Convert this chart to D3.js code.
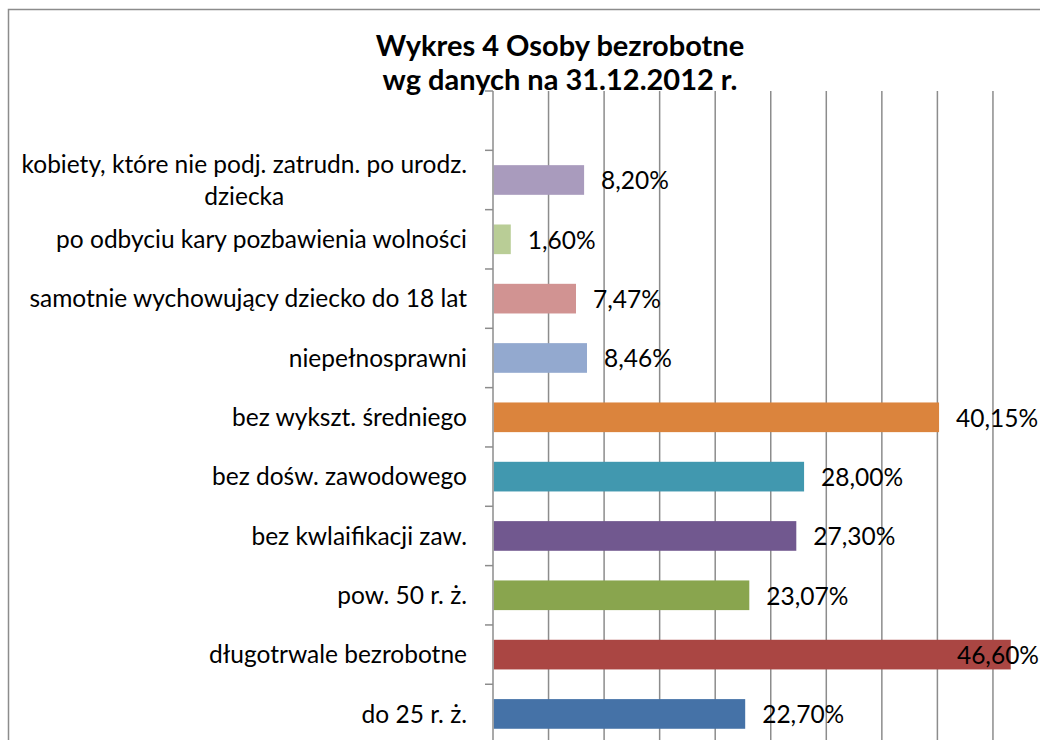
<!DOCTYPE html>
<html>
<head>
    <meta charset="utf-8">
    <script src="https://d3js.org/d3.v7.min.js" charset="utf-8"></script>
    <title>Wykres 4 Osoby bezrobotne</title>
    <style type="text/css">
        body {
            margin: 0;
            background: #fff;
        }
        text {
            font-family: "Lato", "Open Sans", sans-serif;
            fill: #000;
        }
        .title {
            font-size: 29px;
            font-weight: bold;
        }
        .catLabel,
        .valueLabel {
            font-size: 24.5px;
        }
        .grid line,
        .axisLine {
            stroke: #8c8c8c;
            stroke-width: 1.5;
        }
    </style>
</head>
<body>

<div id="chart"></div>

<script>

// categories listed bottom to top, as in the spreadsheet; the last one is the empty row
var categories = [
    "do 25 r. ż.",
    "długotrwale bezrobotne",
    "pow. 50 r. ż.",
    "bez kwlaifikacji zaw.",
    "bez dośw. zawodowego",
    "bez wykszt. średniego",
    "niepełnosprawni",
    "samotnie wychowujący dziecko do 18 lat",
    "po odbyciu kary pozbawienia wolności",
    "kobiety, które nie podj. zatrudn. po urodz. dziecka",
    ""
];
var values = [22.70, 46.60, 23.07, 27.30, 28.00, 40.15, 8.46, 7.47, 1.60, 8.20, null];
var valueLabels = ["22,70%", "46,60%", "23,07%", "27,30%", "28,00%", "40,15%", "8,46%", "7,47%", "1,60%", "8,20%", ""];
var barColors = ["#4572A7", "#AA4643", "#89A54E", "#71588F", "#4198AF",
                 "#DB843D", "#93A9CF", "#D19392", "#B9CD96", "#A99BBD", "#ffffff"];
var xTicks = [0, 5, 10, 15, 20, 25, 30, 35, 40, 45, 50];
var titleLines = ["Wykres 4 Osoby bezrobotne", "wg danych na 31.12.2012 r."];

var width = 1040, height = 740;
var plot = {left: 493, right: 1048.5, top: 91, bottom: 743.6};

var svg = d3.select("#chart").append("svg")
        .attr("width", width)
        .attr("height", height);

// chart area border (runs off the right and bottom of the picture)
svg.append("rect")
        .attr("x", 8.5).attr("y", 9.5)
        .attr("width", 1100).attr("height", 800)
        .attr("fill", "#fff")
        .attr("stroke", "#8c8c8c")
        .attr("stroke-width", 1.5);

var x = d3.scaleLinear()
        .domain([0, 50])
        .range([plot.left, plot.right]);

var y = d3.scaleBand()
        .domain(d3.range(categories.length))
        .range([plot.bottom, plot.top])
        .paddingInner(0.5)
        .paddingOuter(0.25);

// vertical gridlines
svg.append("g").classed("grid", true)
        .selectAll("line")
        .data(xTicks.slice(1))
        .enter().append("line")
        .attr("x1", function (d) { return x(d); })
        .attr("x2", function (d) { return x(d); })
        .attr("y1", plot.top)
        .attr("y2", plot.bottom);

// bars
svg.append("g")
        .selectAll("rect")
        .data(values)
        .enter().filter(function (d) { return d !== null; })
        .append("rect")
        .attr("x", x(0) + 0.75)
        .attr("y", function (d, i) { return y(i); })
        .attr("width", function (d) { return x(d) - x(0) - 0.75; })
        .attr("height", y.bandwidth())
        .attr("fill", function (d, i) { return barColors[i]; });

// category axis: line with tick marks between categories
var step = y.step();
svg.append("line").classed("axisLine", true)
        .attr("x1", plot.left).attr("x2", plot.left)
        .attr("y1", plot.top).attr("y2", plot.bottom);

svg.append("g").classed("grid", true)
        .selectAll("line")
        .data(d3.range(categories.length + 1))
        .enter().append("line")
        .attr("x1", plot.left - 8)
        .attr("x2", plot.left)
        .attr("y1", function (d) { return plot.bottom - d * step; })
        .attr("y2", function (d) { return plot.bottom - d * step; });

// category labels, wrapped lines centered on each other, block right aligned
var labelRight = 467;
var lineHeight = 32;
var wrapAt = "po urodz. ";

categories.forEach(function (name, i) {
    if (!name) return;
    var lines = name.indexOf(wrapAt) >= 0
            ? [name.slice(0, name.indexOf(wrapAt) + wrapAt.length - 1), name.slice(name.indexOf(wrapAt) + wrapAt.length)]
            : [name];
    var cy = y(i) + y.bandwidth() / 2;
    var g = svg.append("g");
    var texts = lines.map(function (line, k) {
        return g.append("text")
                .classed("catLabel", true)
                .attr("y", cy + (k - (lines.length - 1) / 2) * lineHeight)
                .attr("dy", "0.35em")
                .text(line);
    });
    var maxLen = d3.max(texts, function (t) { return t.node().getComputedTextLength(); });
    var mid = labelRight - maxLen / 2;
    texts.forEach(function (t) {
        t.attr("x", mid).attr("text-anchor", "middle");
    });
});

// value labels, kept inside the chart area
svg.append("g")
        .selectAll("text")
        .data(values)
        .enter().filter(function (d) { return d !== null; })
        .append("text")
        .classed("valueLabel", true)
        .attr("y", function (d, i) { return y(i) + y.bandwidth() / 2; })
        .attr("dy", "0.38em")
        .text(function (d, i) { return valueLabels[i]; })
        .each(function (d) {
            var len = this.getComputedTextLength();
            var tx = Math.min(x(d) + 17, width - 1 - len);
            d3.select(this).attr("x", tx);
        });

// title
svg.append("g")
        .selectAll("text")
        .data(titleLines)
        .enter().append("text")
        .classed("title", true)
        .attr("x", 560)
        .attr("y", function (d, i) { return 56 + i * 34; })
        .attr("text-anchor", "middle")
        .text(function (d) { return d; });

</script>

</body>
</html>
